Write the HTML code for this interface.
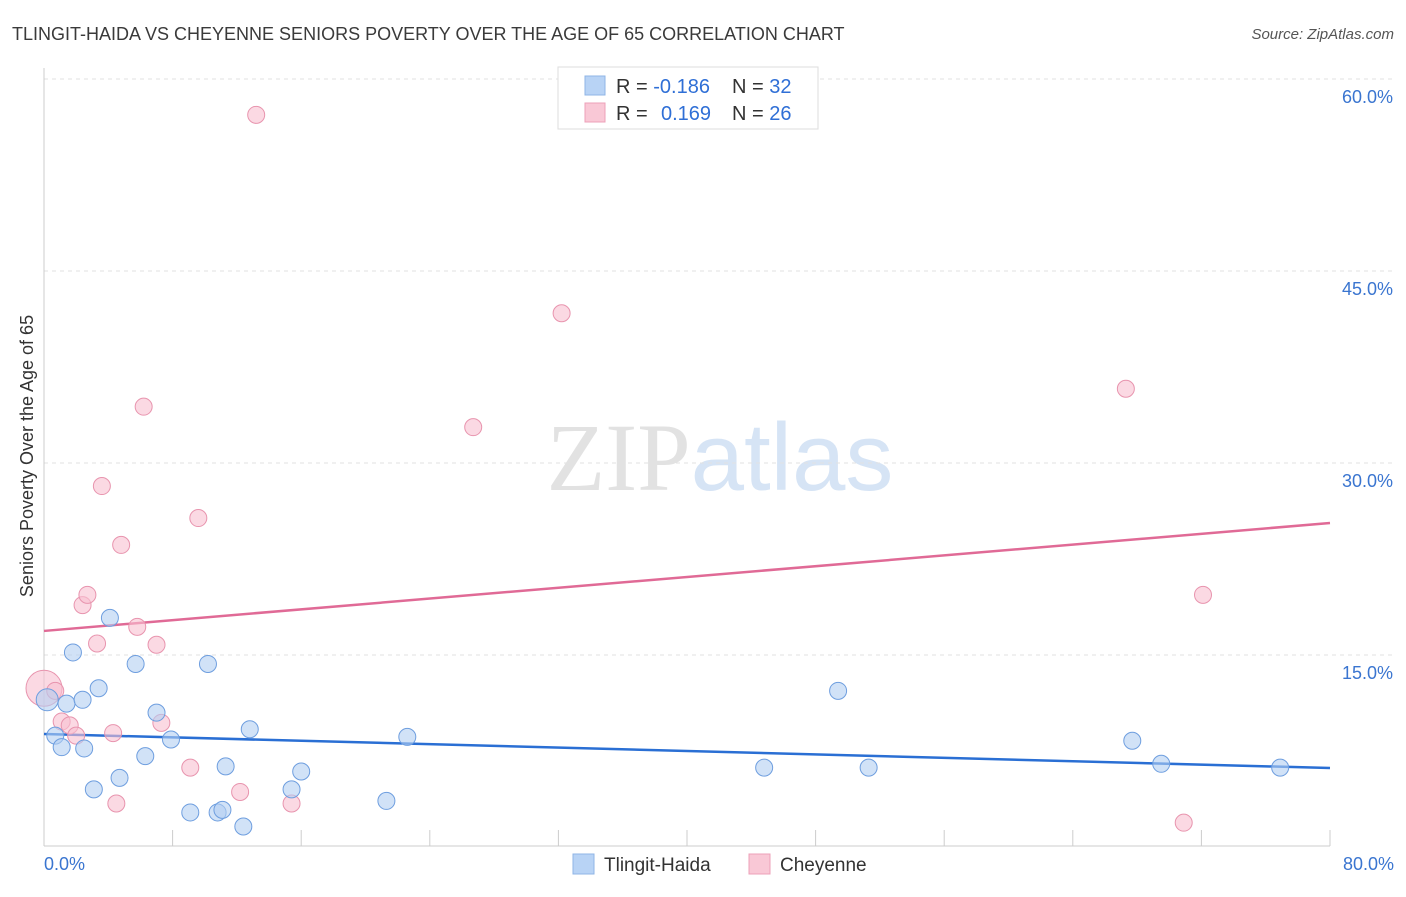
<!DOCTYPE html>
<html><head><meta charset="utf-8"><style>
body{margin:0;background:#fff;font-family:"Liberation Sans",sans-serif;}
svg text{font-family:"Liberation Sans",sans-serif;}
</style></head><body>
<svg id="chart" width="1406" height="892" xmlns="http://www.w3.org/2000/svg">
<text x="12" y="40" font-size="18" fill="#3a3a3a">TLINGIT-HAIDA VS CHEYENNE SENIORS POVERTY OVER THE AGE OF 65 CORRELATION CHART</text>
<text x="1394" y="39" font-size="15" fill="#555" text-anchor="end" font-style="italic">Source: ZipAtlas.com</text>
<text x="720" y="490" font-size="96" text-anchor="middle"><tspan fill="#e2e2e2" font-family="Liberation Serif">ZIP</tspan><tspan fill="#d6e4f5">atlas</tspan></text>
<g id="grid"></g>
<g id="axes"></g>
<text transform="translate(33,456) rotate(-90)" font-size="18" fill="#333" text-anchor="middle">Seniors Poverty Over the Age of 65</text>
<g id="lines"></g>
<g id="points"></g>
<g>
<rect x="558" y="67" width="260" height="62" fill="#fff" stroke="#ddd"/>
<rect x="585" y="76" width="20" height="19" fill="#b8d3f5" stroke="#8fb4e6"/>
<rect x="585" y="103" width="20" height="19" fill="#f9c8d6" stroke="#eda0b8"/>
<text x="616" y="93" font-size="20" fill="#333">R = <tspan fill="#2f6fd6">-0.186</tspan><tspan x="732">N = </tspan><tspan fill="#2f6fd6">32</tspan></text>
<text x="616" y="120" font-size="20" fill="#333">R = <tspan x="661" fill="#2f6fd6">0.169</tspan><tspan x="732">N = </tspan><tspan fill="#2f6fd6">26</tspan></text>
</g>
<g>
<rect x="573" y="854" width="21" height="20" fill="#b8d3f5" stroke="#8fb4e6"/>
<text x="604" y="871" font-size="19" fill="#333">Tlingit-Haida</text>
<rect x="749" y="854" width="21" height="20" fill="#f9c8d6" stroke="#eda0b8"/>
<text x="780" y="871" font-size="19" fill="#333">Cheyenne</text>
</g>
</svg>
<script>
const yTicks=[15,30,45,60];
const yTickLabels=["15.0%","30.0%","45.0%","60.0%"];
const xTicks=[0,8,16,24,32,40,48,56,64,72,80];
const blueX=[0.2,0.7,1.1,1.4,1.8,2.4,2.5,3.1,3.4,4.1,4.7,5.7,6.3,7.0,7.9,9.1,10.2,10.8,11.1,11.3,12.4,12.8,15.4,16.0,21.3,22.6,44.8,49.4,51.3,67.7,69.5,76.9];
const blueY=[11.5,8.7,7.8,11.2,15.2,11.5,7.7,4.5,12.4,17.9,5.4,14.3,7.1,10.5,8.4,2.7,14.3,2.7,2.9,6.3,1.6,9.2,4.5,5.9,3.6,8.6,6.2,12.2,6.2,8.3,6.5,6.2];
const pinkX=[0,0.7,1.1,1.6,2.0,2.4,2.7,3.3,3.6,4.3,4.5,4.8,5.8,6.2,7.0,7.3,9.1,9.6,12.2,13.2,15.4,26.7,32.2,67.3,70.9,72.1];
const pinkY=[12.4,12.2,9.8,9.5,8.7,18.9,19.7,15.9,28.2,8.9,3.4,23.6,17.2,34.4,15.8,9.7,6.2,25.7,4.3,57.2,3.4,32.8,41.7,35.8,1.9,19.7];
const blueTrend=[8.83,6.17];
const pinkTrend=[16.88,25.31];
const X=v=>44+v*16.075, Y=v=>847-v*12.8;
const NS="http://www.w3.org/2000/svg";
function mk(t,a,p){const e=document.createElementNS(NS,t);for(const k in a)e.setAttribute(k,a[k]);document.getElementById(p).appendChild(e);return e;}
yTicks.forEach((t,i)=>{
 const l=mk('line',{x1:44,x2:1394,y1:Y(t),y2:Y(t),stroke:'#e2e2e2','stroke-dasharray':'4,4'},'grid');
 
 
 const tx=mk('text',{x:1393,y:Y(t)+24,'font-size':18,fill:'#3a75d0','text-anchor':'end'},'grid');
 tx.textContent=yTickLabels[i];
 
 
});
mk('line',{x1:44,x2:44,y1:68,y2:846,stroke:'#ccc'},'axes');
mk('line',{x1:44,x2:1330,y1:846,y2:846,stroke:'#ccc'},'axes');
xTicks.forEach(t=>{const l=mk('line',{x1:X(t),x2:X(t),y1:830,y2:846,stroke:'#ccc'},'axes');
 
 });
[[0,'start','0.0%',44],[80,'end','80.0%',1394]].forEach(d=>{const t=mk('text',{x:d[3],y:870,'font-size':18,fill:'#3a75d0','text-anchor':d[1]},'axes');t.textContent=d[2];
 
 });
function pts(xs,ys,fill,stroke,name,bigR){xs.forEach((x,i)=>{const c=mk('circle',{cx:X(x),cy:Y(ys[i]),r:i===0?bigR:8.5,fill:fill,stroke:stroke,'stroke-width':1,'fill-opacity':0.6},'points');
 
 });}
pts(pinkX,pinkY,'#f9c0d0','#e894ae','cheyenne-point',18);
pts(blueX,blueY,'#b3cff2','#6e9edf','tlingit-haida-point',11);
const bl=mk('line',{x1:X(0),y1:Y(blueTrend[0]),x2:X(80),y2:Y(blueTrend[1]),stroke:'#2a6fd4','stroke-width':2.5},'lines');


const pl=mk('line',{x1:X(0),y1:Y(pinkTrend[0]),x2:X(80),y2:Y(pinkTrend[1]),stroke:'#e06a96','stroke-width':2.5},'lines');


</script>
</body></html>
